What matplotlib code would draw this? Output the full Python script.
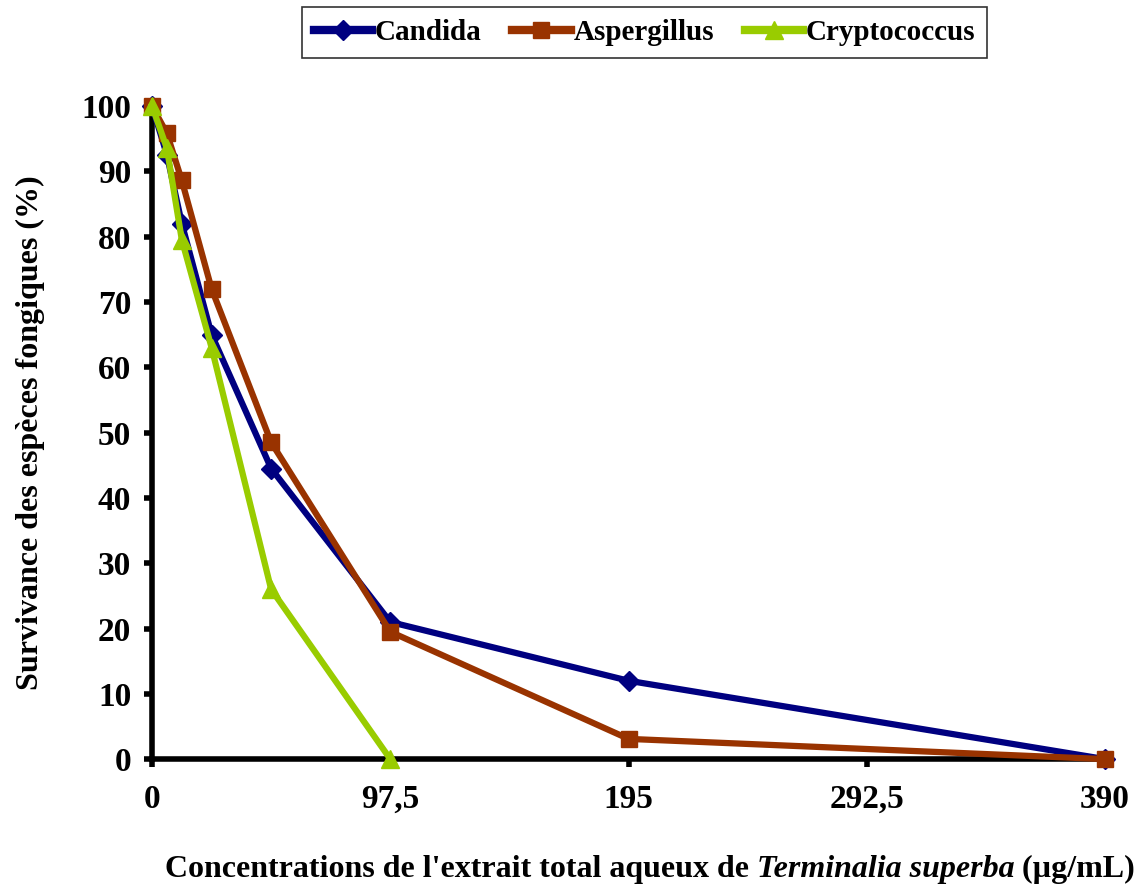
import matplotlib.pyplot as plt
from matplotlib.offsetbox import TextArea, HPacker, AnchoredOffsetbox

# concentrations (µg/mL), dilution series
conc = [0, 6.09, 12.19, 24.375, 48.75, 97.5, 195, 390]
candida = [100, 92.5, 82, 65, 44.5, 21, 12, 0]
aspergillus = [100, 95.8, 88.6, 72, 48.5, 19.5, 3.1, 0]
conc_crypto = [0, 6.09, 12.19, 24.375, 48.75, 97.5]
cryptococcus = [100, 93.5, 79.5, 63, 26, 0]

xticks = [0, 97.5, 195, 292.5, 390]
xticklabels = ['0', '97,5', '195', '292,5', '390']
yticks = list(range(0, 101, 10))

plt.rcParams['font.family'] = 'Liberation Serif'
plt.rcParams['font.weight'] = 'bold'

fig = plt.figure(figsize=(11.44, 8.91), dpi=100)
ax = fig.add_axes([0.1329, 0.148, 0.8331, 0.733])

ax.plot(conc, candida, color='#000080', lw=4.5, marker='D', ms=10,
        label='Candida', clip_on=False, zorder=3)
ax.plot(conc, aspergillus, color='#993300', lw=4.5, marker='s', ms=12,
        label='Aspergillus', clip_on=False, zorder=4)
ax.plot(conc_crypto, cryptococcus, color='#99CC00', lw=4.5, marker='^', ms=13,
        label='Cryptococcus', clip_on=False, zorder=5)

ax.set_xlim(0, 390)
ax.set_ylim(0, 100)
ax.set_xticks(xticks)
ax.set_xticklabels(xticklabels)
ax.set_yticks(yticks)

for s in ['top', 'right']:
    ax.spines[s].set_visible(False)
for s in ['left', 'bottom']:
    ax.spines[s].set_linewidth(4)
ax.tick_params(axis='both', direction='out', length=6, width=4, labelsize=24)
ax.tick_params(axis='x', pad=12)
ax.tick_params(axis='y', pad=9)

ax.set_ylabel('Survivance des espèces fongiques (%)', fontsize=23, fontweight='bold', labelpad=26)

# x label with italic species name
parts = [TextArea("Concentrations de l'extrait total aqueux de ",
                  textprops=dict(size=23, weight='bold', family='Liberation Serif')),
         TextArea("Terminalia superba",
                  textprops=dict(size=23, weight='bold', style='italic', family='Liberation Serif')),
         TextArea(" (µg/mL)",
                  textprops=dict(size=23, weight='bold', family='Liberation Serif'))]
box = HPacker(children=parts, align='baseline', pad=0, sep=0)
anch = AnchoredOffsetbox(loc='center', child=box, frameon=False,
                         bbox_to_anchor=(0.568, 0.024), bbox_transform=fig.transFigure,
                         borderpad=0)
fig.add_artist(anch)

leg = fig.legend(loc='upper center', bbox_to_anchor=(0.5635, 1.008), ncol=3,
                 fontsize=21, frameon=True, fancybox=False, edgecolor='black',
                 handlelength=2.0, columnspacing=1.05, handletextpad=0.1,
                 borderpad=0.4)
leg.get_frame().set_linewidth(1.2)
for h in leg.get_lines():
    h.set_linewidth(6)

fig.savefig('out.png', dpi=100)
